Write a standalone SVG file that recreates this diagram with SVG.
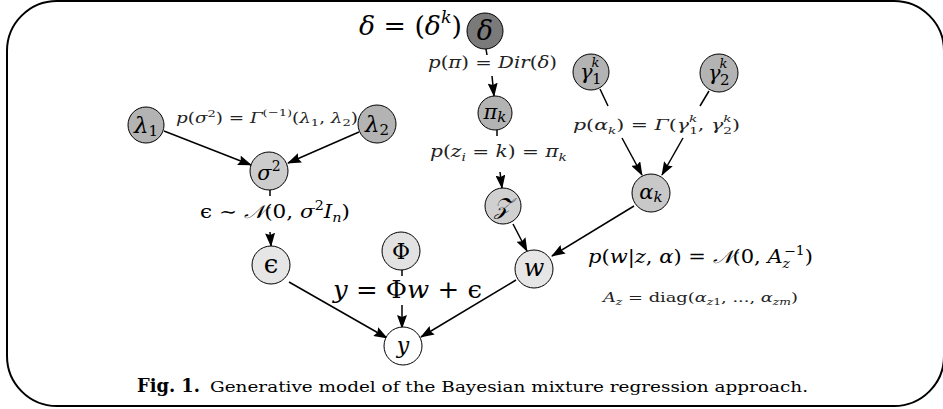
<svg xmlns="http://www.w3.org/2000/svg" width="943" height="409" viewBox="0 0 943 409">
<style>
.n{stroke:#000;stroke-width:1}
.c{fill:none;stroke:#000;stroke-width:1.5}
text{font-family:"DejaVu Serif","Liberation Serif",serif;fill:#000}
.i{font-style:italic}
.lbl{fill:#222}
</style>
<defs>
<marker id="ah" viewBox="0 0 14 10" refX="13" refY="5" markerWidth="14" markerHeight="10" orient="auto" markerUnits="userSpaceOnUse">
<path d="M0,0 L14,5 L0,10 L2,5 z" fill="#000"/>
</marker>
</defs>
<rect x="7" y="1" width="937" height="405" rx="50" ry="50" fill="#fff" stroke="#000" stroke-width="2"/>

<g id="connectors">
<line class="c" x1="486" y1="49" x2="487" y2="55"/>
<line class="c" x1="492" y1="76" x2="494" y2="96" marker-end="url(#ah)"/>
<line class="c" x1="164" y1="131" x2="251" y2="165" marker-end="url(#ah)"/>
<line class="c" x1="359" y1="132" x2="288" y2="163" marker-end="url(#ah)"/>
<line class="c" x1="270" y1="190" x2="270" y2="196"/>
<line class="c" x1="270" y1="232" x2="271" y2="246" marker-end="url(#ah)"/>
<line class="c" x1="497" y1="130" x2="497" y2="136"/>
<line class="c" x1="500" y1="172" x2="502" y2="188" marker-end="url(#ah)"/>
<line class="c" x1="600" y1="89" x2="608" y2="106"/>
<line class="c" x1="622" y1="138" x2="642" y2="175" marker-end="url(#ah)"/>
<line class="c" x1="709" y1="91" x2="700" y2="106"/>
<line class="c" x1="683" y1="138" x2="662" y2="175" marker-end="url(#ah)"/>
<line class="c" x1="513" y1="224" x2="527" y2="251" marker-end="url(#ah)"/>
<line class="c" x1="634" y1="206" x2="552" y2="256" marker-end="url(#ah)"/>
<line class="c" x1="289" y1="282" x2="387" y2="338" marker-end="url(#ah)"/>
<line class="c" x1="402" y1="270" x2="402" y2="276"/>
<line class="c" x1="402" y1="305" x2="402" y2="328" marker-end="url(#ah)"/>
<line class="c" x1="516" y1="280" x2="421" y2="337" marker-end="url(#ah)"/>
</g>

<g id="node-delta">
<circle class="n" cx="485" cy="31" r="18" fill="#7a7a7a"/>
<text x="485" y="40" font-size="27" class="i" text-anchor="middle">δ</text>
</g>
<g id="node-lambda1">
<circle class="n" cx="146" cy="125" r="18" fill="#b3b3b3"/>
<text x="146" y="133" font-size="23" class="i" text-anchor="middle">λ<tspan font-size="15" font-style="normal" dy="3">1</tspan></text>
</g>
<g id="node-lambda2">
<circle class="n" cx="377" cy="124" r="19" fill="#b3b3b3"/>
<text x="377" y="132" font-size="23" class="i" text-anchor="middle">λ<tspan font-size="15" font-style="normal" dy="3">2</tspan></text>
</g>
<g id="node-sigma2">
<circle class="n" cx="269" cy="171" r="19" fill="#cccccc"/>
<text x="269" y="180" font-size="21" class="i" text-anchor="middle">σ<tspan font-size="14" font-style="normal" dy="-9">2</tspan></text>
</g>
<g id="node-pik">
<circle class="n" cx="495" cy="113" r="17" fill="#b3b3b3"/>
<text x="495" y="119" font-size="21" class="i" text-anchor="middle">π<tspan font-size="15" dy="3">k</tspan></text>
</g>
<g id="node-gamma1">
<circle class="n" cx="591" cy="72" r="18" fill="#b3b3b3"/>
<text x="580" y="79" font-size="21" class="i">γ<tspan font-size="13" dy="-12" dx="-1">k</tspan><tspan font-size="15" font-style="normal" x="592" dy="17">1</tspan></text>
</g>
<g id="node-gamma2">
<circle class="n" cx="719" cy="73" r="19" fill="#b3b3b3"/>
<text x="708" y="80" font-size="21" class="i">γ<tspan font-size="13" dy="-12" dx="-1">k</tspan><tspan font-size="15" font-style="normal" x="720" dy="17">2</tspan></text>
</g>
<g id="node-alphak">
<circle class="n" cx="651" cy="193" r="19" fill="#c8c8c8"/>
<text x="651" y="199" font-size="21" class="i" text-anchor="middle">α<tspan font-size="15" dy="3">k</tspan></text>
</g>
<g id="node-z">
<circle class="n" cx="503" cy="206" r="18" fill="#d0d0d0"/>
<text x="503" y="214" font-size="23" class="i" text-anchor="middle">𝒵</text>
</g>
<g id="node-eps">
<circle class="n" cx="271" cy="265" r="19" fill="#e6e6e6"/>
<text x="271" y="273" font-size="26" text-anchor="middle">ϵ</text>
</g>
<g id="node-phi">
<circle class="n" cx="401" cy="251" r="19" fill="#e2e2e2"/>
<text x="401" y="259" font-size="22" text-anchor="middle">Φ</text>
</g>
<g id="node-w">
<circle class="n" cx="534" cy="269" r="19" fill="#e6e6e6"/>
<text x="534" y="276" font-size="24" class="i" text-anchor="middle">w</text>
</g>
<g id="node-y">
<circle class="n" cx="403" cy="346" r="19" fill="#ffffff"/>
<text x="403" y="353" font-size="22" class="i" text-anchor="middle">y</text>
</g>

<g id="labels">
<text x="359" y="35" font-size="26" textLength="103" lengthAdjust="spacingAndGlyphs"><tspan class="i">δ</tspan> = (<tspan class="i">δ</tspan><tspan class="i" font-size="17" dy="-12">k</tspan><tspan dy="12">)</tspan></text>
<text class="lbl" x="428" y="68" font-size="16" textLength="129" lengthAdjust="spacingAndGlyphs"><tspan class="i">p</tspan>(<tspan class="i">π</tspan>) = <tspan class="i">Dir</tspan>(<tspan class="i">δ</tspan>)</text>
<text class="lbl" x="176" y="123" font-size="14" textLength="182" lengthAdjust="spacingAndGlyphs"><tspan class="i">p</tspan>(<tspan class="i">σ</tspan><tspan font-size="10" dy="-6">2</tspan><tspan dy="6">) = </tspan><tspan class="i">Γ</tspan><tspan font-size="10" dy="-7">(−1)</tspan><tspan dy="7">(</tspan><tspan class="i">λ</tspan><tspan font-size="10" dy="3">1</tspan><tspan dy="-3">, </tspan><tspan class="i">λ</tspan><tspan font-size="10" dy="3">2</tspan><tspan dy="-3">)</tspan></text>
<text x="200" y="218" font-size="18" textLength="150" lengthAdjust="spacingAndGlyphs">ϵ ∼ <tspan class="i">𝒩</tspan>(0, <tspan class="i">σ</tspan><tspan font-size="12" dy="-8">2</tspan><tspan class="i" dy="8">I</tspan><tspan class="i" font-size="12" dy="4">n</tspan><tspan dy="-4">)</tspan></text>
<text class="lbl" x="430" y="157" font-size="16" textLength="137" lengthAdjust="spacingAndGlyphs"><tspan class="i">p</tspan>(<tspan class="i">z</tspan><tspan class="i" font-size="11" dy="4">i</tspan><tspan dy="-4"> = </tspan><tspan class="i">k</tspan>) = <tspan class="i">π</tspan><tspan class="i" font-size="11" dy="4">k</tspan></text>
<text class="lbl" x="573" y="130" font-size="15" textLength="167" lengthAdjust="spacingAndGlyphs"><tspan class="i">p</tspan>(<tspan class="i">α</tspan><tspan class="i" font-size="10" dy="4">k</tspan><tspan dy="-4">) = </tspan><tspan class="i">Γ</tspan>(<tspan class="i">γ</tspan><tspan class="i" font-size="10" dy="-8">k</tspan><tspan font-size="10" dx="-6" dy="12">1</tspan><tspan dy="-4">, </tspan><tspan class="i">γ</tspan><tspan class="i" font-size="10" dy="-8">k</tspan><tspan font-size="10" dx="-6" dy="12">2</tspan><tspan dy="-4">)</tspan></text>
<text x="333" y="298" font-size="25" textLength="149" lengthAdjust="spacingAndGlyphs"><tspan class="i">y</tspan> = Φ<tspan class="i">w</tspan> + ϵ</text>
<text x="588" y="263" font-size="18" textLength="225" lengthAdjust="spacingAndGlyphs"><tspan class="i">p</tspan>(<tspan class="i">w</tspan>|<tspan class="i">z</tspan>, <tspan class="i">α</tspan>) = <tspan class="i">𝒩</tspan>(0, <tspan class="i">A</tspan><tspan class="i" font-size="12" dy="5">z</tspan><tspan font-size="12" dx="-5" dy="-13">−1</tspan><tspan dy="8">)</tspan></text>
<text class="lbl" x="603" y="302" font-size="13" textLength="195" lengthAdjust="spacingAndGlyphs"><tspan class="i">A</tspan><tspan class="i" font-size="9" dy="3">z</tspan><tspan dy="-3"> = diag(</tspan><tspan class="i">α</tspan><tspan class="i" font-size="9" dy="3">z</tspan><tspan font-size="9">1</tspan><tspan dy="-3">, ..., </tspan><tspan class="i">α</tspan><tspan class="i" font-size="9" dy="3">zm</tspan><tspan dy="-3">)</tspan></text>
<text x="137" y="392" font-size="18" font-weight="bold" textLength="63" lengthAdjust="spacingAndGlyphs">Fig. 1.</text>
<text x="210" y="392" font-size="15" textLength="598" lengthAdjust="spacingAndGlyphs">Generative model of the Bayesian mixture regression approach.</text>
</g>
</svg>
